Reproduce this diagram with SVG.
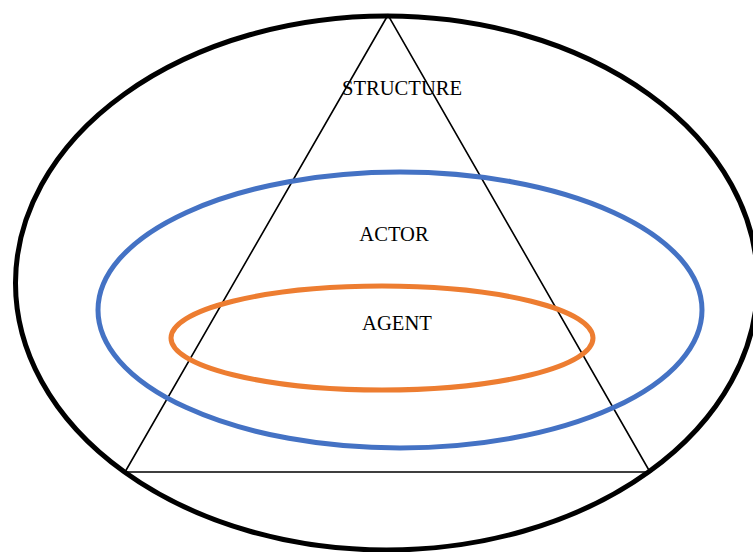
<svg xmlns="http://www.w3.org/2000/svg" width="753" height="552" viewBox="0 0 753 552">
<style>
.lbl{font-family:"Liberation Serif","Times New Roman",serif;font-size:20.6px;fill:#000;text-anchor:middle}
.ring{fill:none;stroke-width:5}
</style>
<rect width="753" height="552" fill="#fff"/>
<g id="structure-ellipse"><ellipse class="ring" cx="386.5" cy="283" rx="371" ry="267" stroke="#000" stroke-width="5.5"/></g>
<g id="triangle"><polygon points="388,15 125,472 650,472" fill="none" stroke="#000" stroke-width="1.6"/></g>
<g id="actor-ellipse"><ellipse class="ring" cx="400" cy="310" rx="302" ry="138" stroke="#4472C4"/></g>
<g id="agent-ellipse"><ellipse class="ring" cx="382" cy="338" rx="211" ry="52" stroke="#ED7D31"/></g>
<g id="labels">
<text class="lbl" x="402" y="95">STRUCTURE</text>
<text class="lbl" x="394" y="241">ACTOR</text>
<text class="lbl" x="397" y="330">AGENT</text>
</g>
<g id="connectors"/>
</svg>
